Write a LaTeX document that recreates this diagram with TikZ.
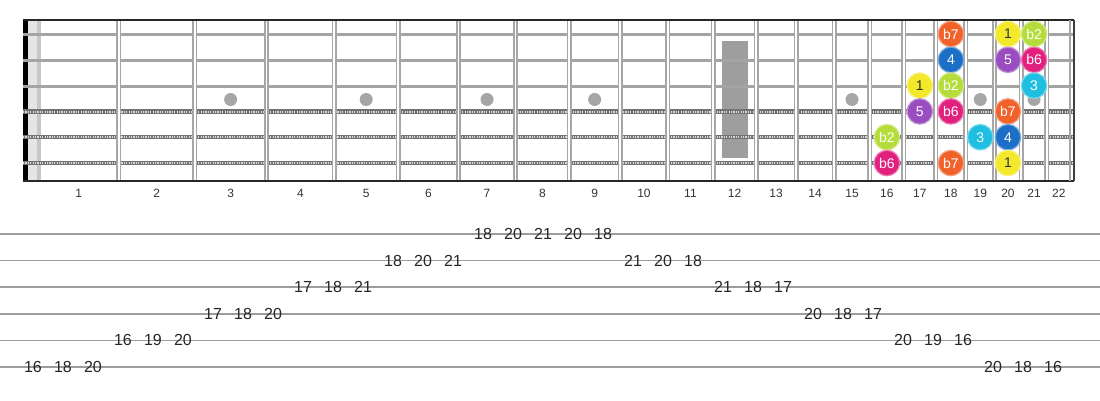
\documentclass[tikz,border=0pt]{standalone}
\usepackage{fontspec}
\setmainfont{Liberation Sans}
\usepackage{tikz}

\definecolor{cone}{HTML}{F3E829}
\definecolor{ctwo}{HTML}{B4DC3A}
\definecolor{cthree}{HTML}{1EBFE0}
\definecolor{cfour}{HTML}{1B6FC6}
\definecolor{cfive}{HTML}{9A4DBF}
\definecolor{csix}{HTML}{E2217F}
\definecolor{cseven}{HTML}{F0622A}
\definecolor{fretgray}{HTML}{A6A6A6}
\definecolor{stringgray}{HTML}{A4A4A4}
\definecolor{tabgray}{HTML}{9C9C9C}

\tikzset{
  note/.style={circle, minimum size=25.5pt, inner sep=0pt, line width=1.2pt,
    text=white, font=\fontsize{14}{14}\selectfont},
  deg1/.style={note, fill=cone, draw=cone!60!white, text=black!80},
  degb2/.style={note, fill=ctwo, draw=ctwo!60!white},
  deg3/.style={note, fill=cthree, draw=cthree!60!white},
  deg4/.style={note, fill=cfour, draw=cfour!60!white},
  deg5/.style={note, fill=cfive, draw=cfive!60!white},
  degb6/.style={note, fill=csix, draw=csix!60!white},
  degb7/.style={note, fill=cseven, draw=cseven!60!white},
  fretnum/.style={inner sep=0pt, font=\fontsize{12}{12}\selectfont, text=black!80},
  tabnum/.style={inner sep=0pt, font=\fontsize{16}{16}\selectfont, text=black!85},
}

\begin{document}
\begin{tikzpicture}[x=1pt, y=-1pt]
    \useasboundingbox (0,0) rectangle (1100,400);

    % Nut and light band
    \fill[black] (23,20) rectangle (27.5,181);
    \fill[black!10] (27.5,20) rectangle (37,181);
    \fill[black!22] (37,20) rectangle (41,181);

    % 12th fret marker
    \fill[black!38] (722,41) rectangle (748,158);

    % Inlay dots
    \foreach \f in {3,5,7,9,15,19,21} {
        \pgfmathsetmacro\mx{38.5+1435*(1-(pow(2,-(\f-1)/12)+pow(2,-\f/12))/2)}
        \fill[black!35] (\mx,99.5) circle (6.5);
    }

    % Strings
    \foreach \s/\y in {1/34,2/60,3/86} {
        \draw[stringgray, line width=3pt] (23,\y) -- (1073,\y);
    }
    \foreach \s/\y in {4/111.5,5/137,6/163} {
        \draw[black!55, line width=4.2pt] (23,\y) -- (1073,\y);
        \draw[black!15, line width=2pt, dash pattern=on 1.1pt off 1.3pt] (23,\y) -- (1073,\y);
    }

    % Frets and fret numbers
    \foreach \f in {1,...,21} {
        \pgfmathsetmacro\fx{38.5+1435*(1-pow(2,-\f/12))}
        \draw[fretgray, line width=5pt] (\fx,21) -- (\fx,180);
        \draw[white, line width=1.8pt] (\fx,21) -- (\fx,180);
    }
    \foreach \f in {1,...,22} {
        \pgfmathsetmacro\mx{38.5+1435*(1-(pow(2,-(\f-1)/12)+pow(2,-\f/12))/2)}
        \node[fretnum] (fn\f) at (\mx,193) {\f};
    }

    % Board edges
    \draw[black!85, line width=2pt] (23,20) -- (1074,20);
    \draw[black!85, line width=2pt] (23,181) -- (1074,181);
    \draw[fretgray, line width=1.5pt] (1070,20) -- (1070,181);
    \draw[black!75, line width=2pt] (1074,20) -- (1074,181);

    % Scale notes
    \foreach \s/\f/\d/\st in {1/18/b7/degb7, 1/20/1/deg1, 1/21/b2/degb2,
        2/18/4/deg4, 2/20/5/deg5, 2/21/b6/degb6,
        3/17/1/deg1, 3/18/b2/degb2, 3/21/3/deg3,
        4/17/5/deg5, 4/18/b6/degb6, 4/20/b7/degb7,
        5/16/b2/degb2, 5/19/3/deg3, 5/20/4/deg4,
        6/16/b6/degb6, 6/18/b7/degb7, 6/20/1/deg1} {
        \pgfmathsetmacro\mx{38.5+1435*(1-(pow(2,-(\f-1)/12)+pow(2,-\f/12))/2)}
        \pgfmathsetmacro\my{34+25.8*(\s-1)}
        \node[\st] (n\s-\f) at (\mx,\my) {\d};
    }

    % Tab lines
    \foreach \s in {1,...,6} {
        \pgfmathsetmacro\ty{234+26.6*(\s-1)}
        \draw[tabgray, line width=1.5pt] (0,\ty) -- (1100,\ty);
    }

    % Tab numbers
    \foreach \s/\v [count=\k from 0] in {6/16,6/18,6/20, 5/16,5/19,5/20,
        4/17,4/18,4/20, 3/17,3/18,3/21, 2/18,2/20,2/21, 1/18,1/20,1/21,
        1/20,1/18, 2/21,2/20,2/18, 3/21,3/18,3/17,
        4/20,4/18,4/17, 5/20,5/19,5/16, 6/20,6/18,6/16} {
        \pgfmathsetmacro\ty{234+26.6*(\s-1)}
        \node[tabnum] (t\k) at (33+30*\k,\ty) {\v};
    }
\end{tikzpicture}
\end{document}
